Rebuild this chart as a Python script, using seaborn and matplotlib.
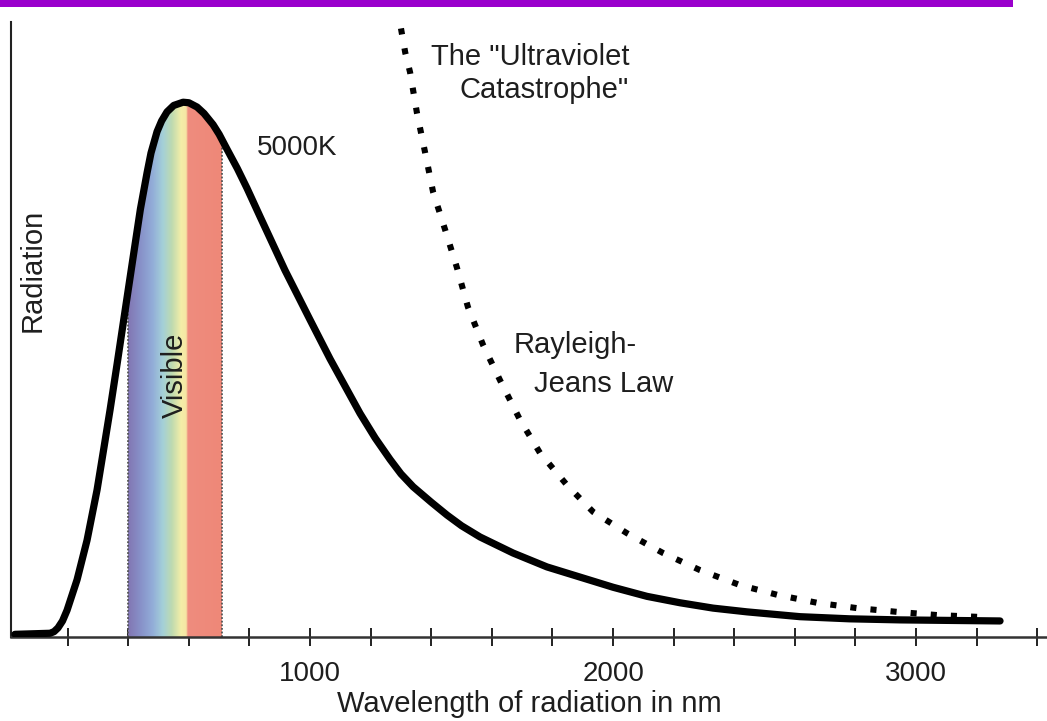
import numpy as np
import matplotlib
matplotlib.use("Agg")
import matplotlib.pyplot as plt
import seaborn as sns
from matplotlib.colors import LinearSegmentedColormap
from matplotlib.patches import Rectangle
from matplotlib.ticker import FixedLocator, FuncFormatter

# ── data (wavelength in nm, radiation in arbitrary units, peak = 1) ──
planck_nm = [26, 142, 155, 168, 183, 198, 231, 264, 297, 320, 340, 363, 390, 416,
             440, 462, 475, 495, 510, 528, 550, 581, 600, 627, 650, 680, 700, 726,
             760, 792, 835, 917, 1000, 1066, 1165, 1215, 1264, 1300, 1340, 1400,
             1452, 1500, 1561, 1670, 1782, 1891, 2000, 2112, 2221, 2330, 2442, 2617,
             2780, 2947, 3110, 3277]
planck_rad = [0.005, 0.007, 0.010, 0.017, 0.030, 0.050, 0.107, 0.181, 0.275, 0.355,
              0.425, 0.510, 0.612, 0.710, 0.800, 0.868, 0.905, 0.945, 0.965, 0.982,
              0.994, 1.000, 0.999, 0.991, 0.979, 0.958, 0.940, 0.912, 0.876, 0.839,
              0.786, 0.686, 0.593, 0.520, 0.418, 0.372, 0.332, 0.305, 0.281, 0.252,
              0.228, 0.208, 0.187, 0.157, 0.131, 0.112, 0.093, 0.076, 0.064, 0.054,
              0.047, 0.038, 0.034, 0.032, 0.031, 0.030]

rj_nm = [1300, 1314, 1330, 1353, 1380, 1406, 1446, 1485, 1521, 1571, 1627, 1693,
         1759, 1848, 1934, 2046, 2165, 2287, 2419, 2541, 2673, 2805, 2937, 3069, 3228]
rj_rad = [1.138, 1.093, 1.056, 0.979, 0.905, 0.832, 0.761, 0.690, 0.617, 0.546,
          0.480, 0.406, 0.344, 0.284, 0.234, 0.194, 0.157, 0.125, 0.097, 0.079,
          0.064, 0.054, 0.047, 0.041, 0.037]

# visible band
visible_edges = [400, 710]
band_nm = [400, 440, 480, 515, 545, 575, 592, 598, 710]
band_colors = ["#8276b2", "#8790c8", "#92acd8", "#a4d0d8", "#bedab0",
               "#f4eea8", "#f6e6a4", "#ef8c7e", "#ee8878"]

tick_nm = list(range(200, 3600, 200))
label_nm = [1000, 2000, 3000]

# ── figure ─────────────────────────────────────────────────────
sns.set_style("white")
plt.rcParams["font.family"] = ["Liberation Sans", "DejaVu Sans"]
txt = "#1e1e1e"

fig = plt.figure(figsize=(10.47, 7.21), dpi=100)
ax = fig.add_axes([11 / 1047, 84 / 721, 1 - 11 / 1047, 615 / 721])

# area under the curve (used as clip for the spectrum)
area = ax.fill_between(planck_nm, planck_rad, 0, color="none", lw=0)
clip = area.get_paths()[0]

pos = [(v - band_nm[0]) / (band_nm[-1] - band_nm[0]) for v in band_nm]
cmap = LinearSegmentedColormap.from_list("vis", list(zip(pos, band_colors)))
grad = np.linspace(0, 1, 256).reshape(1, -1)
im = ax.imshow(grad, cmap=cmap, aspect="auto", origin="lower",
               extent=[visible_edges[0], visible_edges[1], 0, 1.15], zorder=1)
im.set_clip_path(clip, transform=ax.transData)

vl = ax.vlines(visible_edges, 0, 1.15, colors="#555555", linestyles=(0, (1, 1)),
               lw=1.3, zorder=2)
vl.set_clip_path(clip, transform=ax.transData)

# curves
sns.lineplot(x=planck_nm, y=planck_rad, ax=ax, color="black", lw=5.2, zorder=3)
sns.lineplot(x=rj_nm, y=rj_rad, ax=ax, color="black", lw=4.4,
             linestyle=(0, (1, 2.3)), dash_capstyle="butt", zorder=3)

ax.set_xlim(13, 3432)
ax.set_ylim(0, 1.15)

# axes styling
for s in ["top", "right"]:
    ax.spines[s].set_visible(False)
ax.spines["left"].set_color("#222222")
ax.spines["left"].set_linewidth(1.5)
ax.spines["bottom"].set_color("#333333")
ax.spines["bottom"].set_linewidth(1.8)
ax.set_yticks([])
ax.xaxis.set_major_locator(FixedLocator(tick_nm))
ax.xaxis.set_major_formatter(FuncFormatter(
    lambda v, p: f"{int(v)}" if int(v) in label_nm else ""))
ax.tick_params(axis="x", bottom=True, direction="inout", length=13, width=1.4,
               color="#222222", labelsize=20, labelcolor=txt, pad=11)
ax.set_xlabel("Wavelength of radiation in nm", fontsize=21, color=txt, labelpad=2)
ax.set_ylabel("")

# annotations
ax.text(957, 0.914, "5000K", fontsize=20, color=txt, ha="center", va="center")
ax.text(1726, 1.084, "The \"Ultraviolet", fontsize=21, color=txt, ha="center", va="center")
ax.text(1772, 1.022, "Catastrophe\"", fontsize=21, color=txt, ha="center", va="center")
ax.text(1875, 0.546, "Rayleigh-", fontsize=21, color=txt, ha="center", va="center")
ax.text(1970, 0.473, "Jeans Law", fontsize=21, color=txt, ha="center", va="center")
ax.text(554, 0.490, "Visible", fontsize=21, color=txt, ha="center", va="center",
        rotation=90, zorder=4)
ax.text(86, 0.686, "Radiation", fontsize=21, color=txt, ha="center", va="center",
        rotation=90)

# purple rule along the top
fig.patches.append(Rectangle((0, 1 - 7 / 721), 1013 / 1047, 7 / 721,
                             transform=fig.transFigure, color="#9a00cc", lw=0))

fig.savefig("out.png", dpi=100)
